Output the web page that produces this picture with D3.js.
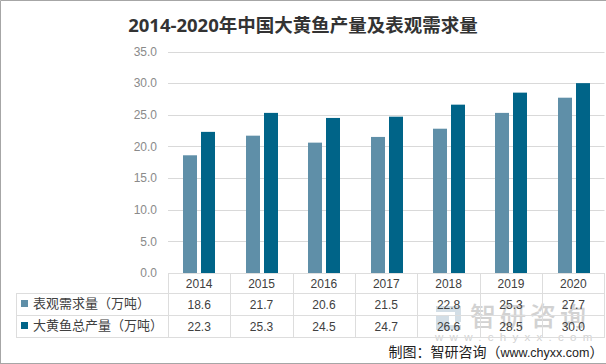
<!DOCTYPE html>
<html><head><meta charset="utf-8">
<script src="https://cdn.jsdelivr.net/npm/d3@7"></script>
<style>html,body{margin:0;padding:0;background:#fff}svg{display:block}text{font-family:"Liberation Sans","Noto Sans CJK SC",sans-serif}</style>
</head><body><svg id="c" width="606" height="364"></svg>
<script>
const years = ["2014","2015","2016","2017","2018","2019","2020"];
const demand = [18.6,21.7,20.6,21.5,22.8,25.3,27.7];
const output = [22.3,25.3,24.5,24.7,26.6,28.5,30.0];
const demandName = "表观需求量（万吨）";
const outputName = "大黄鱼总产量（万吨）";
const yTicks = [0,5,10,15,20,25,30,35];
const titleText = "2014-2020年中国大黄鱼产量及表观需求量";
const sourceParts = ["制图：智研咨询（","www.chyxx.com","）"];

(function(){
const svg = d3.select("#c");
const W=606,H=364, left=168, right=604.5, base=273, plotTop=51.5, tableLeft=16.5;
const rows=[273,293,315,337];
const x=d3.scaleBand().domain(years).range([left,right]);
const y=d3.scaleLinear().domain([0,35]).range([base,plotTop]);
const cDemand="#5f8fa8", cOutput="#006488", grid="#d9d9d9", line="#dddddd";

svg.append("rect").attr("width",W).attr("height",H).attr("fill","#fff");
svg.append("path").attr("d",`M0.5,${H}V0.5H${W}M0,${H-.5}H${W}`).attr("fill","none").attr("stroke","#a6a6a6");

svg.append("text").attr("x",303).attr("y",32).attr("text-anchor","middle")
  .attr("font-size",18.5).attr("font-weight",700).attr("fill","#333").text(titleText)
  .style("font-family",'"Open Sans","Noto Sans CJK SC",sans-serif');

svg.append("g").selectAll("line").data(yTicks.filter(d=>d>0)).join("line")
  .attr("x1",168).attr("x2",right).attr("y1",d=>Math.round(y(d))+.5).attr("y2",d=>Math.round(y(d))+.5)
  .attr("stroke",grid);
const yAxis=d3.axisLeft(y).tickValues(yTicks).tickFormat(d3.format(".1f")).tickSize(0).tickPadding(0);
const ga=svg.append("g").attr("transform","translate(157,0)").call(yAxis);
ga.select(".domain").remove();
ga.selectAll("text").attr("font-size",12).attr("fill","#8a8a8a").style("font-family",'"Liberation Sans",sans-serif');

const wm=svg.append("g");
wm.append("path").attr("d","M436,306H461V322H455V312H436ZM436,316H449V325H461V330H436Z").attr("fill","#d3dee6");
wm.append("text").attr("x",470).attr("y",326).attr("font-size",26).attr("font-weight",500).attr("fill","#d2d2d2").attr("letter-spacing",4).text("智研咨询");
wm.append("text").attr("x",435).attr("y",341).attr("font-size",11.5).attr("fill","#d2d2d2").attr("letter-spacing",6.3).text("www.chyxx.com");

const g=svg.append("g");
const cx=d=>Math.round(x(d)+x.bandwidth()/2+.3);
g.selectAll(".a").data(years).join("rect").attr("class","a")
  .attr("x",d=>cx(d)-16).attr("width",14)
  .attr("y",(d,i)=>y(demand[i])).attr("height",(d,i)=>base-y(demand[i])).attr("fill",cDemand);
g.selectAll(".b").data(years).join("rect").attr("class","b")
  .attr("x",d=>cx(d)+2).attr("width",14)
  .attr("y",(d,i)=>y(output[i])).attr("height",(d,i)=>base-y(output[i])).attr("fill",cOutput);

const T=svg.append("g").attr("stroke",line).attr("fill","none").attr("stroke-width",1);
T.append("path").attr("d",`M${left+.5},${base+.5}H${right}`);
rows.slice(1).forEach(r=>T.append("path").attr("d",`M${tableLeft},${r+.5}H${right}`));
T.append("path").attr("d",`M${tableLeft},${rows[1]}V${rows[3]+1}`);
years.forEach(d=>T.append("path").attr("d",`M${Math.round(x(d))+.5},${base}V${rows[3]+1}`));
T.append("path").attr("d",`M${right},${base}V${rows[3]+1}`);

const tt=(vals,yy,col)=>svg.append("g").selectAll("text").data(vals).join("text")
  .attr("x",(d,i)=>x(years[i])+x.bandwidth()/2).attr("y",yy).attr("text-anchor","middle")
  .attr("font-size",12).attr("fill",col).text(d=>d);
tt(years,288,"#404040");
tt(demand.map(d=>d.toFixed(1)),309,"#404040");
tt(output.map(d=>d.toFixed(1)),331,"#404040");
[[demandName,cDemand,304],[outputName,cOutput,326]].forEach(([n,c,cy])=>{
  svg.append("rect").attr("x",21).attr("y",cy-4).attr("width",7).attr("height",7).attr("fill",c);
  svg.append("text").attr("x",33).attr("y",cy+4).attr("font-size",13).attr("fill","#404040").text(n);
});

const s=svg.append("text").attr("x",388.5).attr("y",357).attr("font-size",14).attr("fill","#222");
s.selectAll("tspan").data(sourceParts).join("tspan")
  .attr("font-size",(d,i)=>i===1?12.5:14).text(d=>d);
})();
</script></body></html>
